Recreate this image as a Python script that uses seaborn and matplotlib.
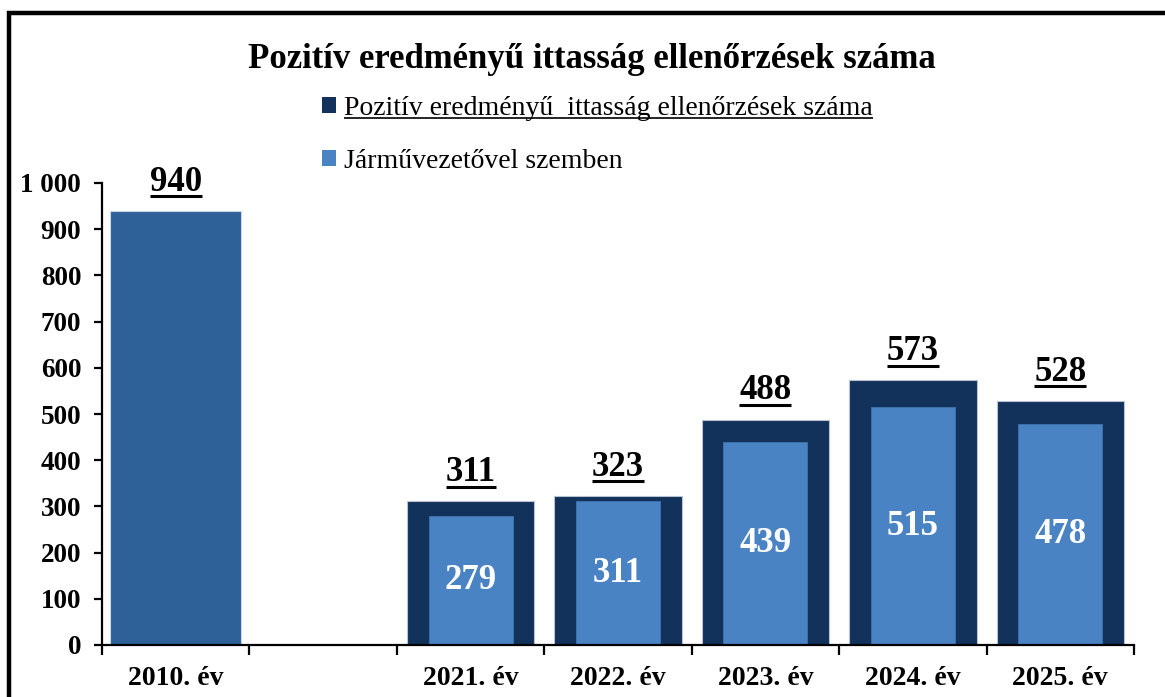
import matplotlib
matplotlib.use("Agg")
import matplotlib.pyplot as plt
from matplotlib.patches import Patch, Rectangle
from matplotlib.lines import Line2D
from matplotlib.ticker import FuncFormatter, FixedLocator
import seaborn as sns
import pandas as pd

# ---- data ----
categories = ["2010. év", " ", "2021. év", "2022. év", "2023. év", "2024. év", "2025. év"]
base_year = ["2010. év"]
base_value = [940]
years = ["2021. év", "2022. év", "2023. év", "2024. év", "2025. év"]
total_checks = [311, 323, 488, 573, 528]
driver_checks = [279, 311, 439, 515, 478]

title = "Pozitív eredményű ittasság ellenőrzések száma"
legend_total = "Pozitív eredményű  ittasság ellenőrzések száma"
legend_driver = "Járművezetővel szemben"

C_BASE = "#2E6198"
C_DARK = "#12315B"
C_LIGHT = "#4A83C3"

sns.set_style("white")
plt.rcParams["font.family"] = ["Liberation Serif", "DejaVu Serif"]

fig = plt.figure(figsize=(11.65, 6.97), dpi=100)
ax = fig.add_axes([102 / 1165, 1 - 645 / 697, (1134 - 102) / 1165, (645 - 183) / 697])

df_base = pd.DataFrame({"cat": base_year, "val": base_value})
df_tot = pd.DataFrame({"cat": years, "val": total_checks})
df_drv = pd.DataFrame({"cat": years, "val": driver_checks})

sns.barplot(data=df_base, x="cat", y="val", order=categories, color=C_BASE,
            saturation=1, width=0.89, edgecolor="#c9d6ea", linewidth=0.8, ax=ax)
sns.barplot(data=df_tot, x="cat", y="val", order=categories, color=C_DARK,
            saturation=1, width=0.865, edgecolor="#b8c2d2", linewidth=0.8, ax=ax)
sns.barplot(data=df_drv, x="cat", y="val", order=categories, color=C_LIGHT,
            saturation=1, width=0.57, edgecolor="#3f74ae", linewidth=0.6, ax=ax)

ax.set_xlim(-0.5, len(categories) - 0.5)
ax.set_ylim(0, 1000)
ax.set_xlabel("")
ax.set_ylabel("")

for s in ["top", "right"]:
    ax.spines[s].set_visible(False)
for s in ["left", "bottom"]:
    ax.spines[s].set_color("black")
    ax.spines[s].set_linewidth(1.6)

ax.yaxis.set_major_locator(FixedLocator(list(range(0, 1001, 100))))
ax.yaxis.set_major_formatter(FuncFormatter(lambda v, p: f"{int(v):,}".replace(",", " ")))
ax.tick_params(axis="y", which="major", direction="out", length=6, width=1.6,
               color="black", labelsize=19.5, pad=9, left=True)
ax.set_xticks(range(len(categories)))
ax.set_xticklabels(categories)
ax.tick_params(axis="x", which="major", length=0, labelsize=20, pad=15)
ax.set_xticks([i - 0.5 for i in range(len(categories) + 1)], minor=True)
ax.tick_params(axis="x", which="minor", direction="out", length=7, width=1.6,
               color="black", bottom=True)
for lab in ax.get_xticklabels() + ax.get_yticklabels():
    lab.set_fontweight("bold")
    lab.set_color("black")

# value labels
top_texts = []
for cat, v in zip(base_year + years, base_value + total_checks):
    i = categories.index(cat)
    t = ax.annotate(f"{v}", xy=(i, v), xytext=(0, 14.5), textcoords="offset points",
                    ha="center", va="baseline", fontsize=25, fontweight="bold",
                    color="black", annotation_clip=False)
    top_texts.append(t)
for cat, v in zip(years, driver_checks):
    i = categories.index(cat)
    ax.text(i, v / 2, f"{v}", ha="center", va="center", fontsize=25,
            fontweight="bold", color="white")

# title
fig.text(592 / 1165, 1 - 59 / 697, title, ha="center", va="center",
         fontsize=25, fontweight="bold", color="black")

# legend
handles = [Patch(facecolor=C_DARK, edgecolor="none", label=legend_total),
           Patch(facecolor=C_LIGHT, edgecolor="none", label=legend_driver)]
leg = fig.legend(handles=handles, loc="upper left",
                 bbox_to_anchor=(322 / 1165, 1 - 96 / 697), frameon=False,
                 fontsize=20, handlelength=0.5, handleheight=0.5,
                 handletextpad=0.3, labelspacing=1.0, borderaxespad=0,
                 borderpad=0)
for txt in leg.get_texts():
    txt.set_color("black")

# outer frame
fig.add_artist(Rectangle((9 / 1165, -0.2), 1.3, 1.2 - 13 / 697,
                         transform=fig.transFigure, fill=False,
                         edgecolor="black", linewidth=3.2, clip_on=False))

# underlines
fig.canvas.draw()
renderer = fig.canvas.get_renderer()
inv = fig.transFigure.inverted()

def underline(txt, rise_px, lw):
    bb = txt.get_window_extent(renderer=renderer)
    (x0, y0) = inv.transform((bb.x0, bb.y0 + rise_px))
    (x1, _) = inv.transform((bb.x1, bb.y0 + rise_px))
    fig.add_artist(Line2D([x0, x1], [y0, y0], transform=fig.transFigure,
                          color="black", linewidth=lw, solid_capstyle="butt"))

for t in top_texts:
    underline(t, 2.5, 2.2)
underline(leg.get_texts()[0], 2.5, 1.2)

fig.savefig("out.png", dpi=100, facecolor="white")
